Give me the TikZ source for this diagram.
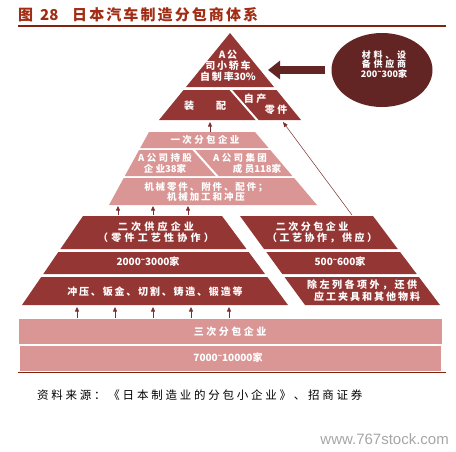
\documentclass[tikz,border=0pt]{standalone}
\usepackage{fontspec}
\setmainfont{Noto Sans CJK SC}
\newfontfamily\wmfont{Liberation Sans}
\usetikzlibrary{arrows.meta,shapes.geometric}
\definecolor{dk}{HTML}{943634}
\definecolor{pk}{HTML}{D99694}
\definecolor{dd}{HTML}{632523}
\definecolor{ttl}{RGB}{160,45,20}
\definecolor{arr}{HTML}{7A2E2E}
\newcommand\LS[1]{\addfontfeatures{LetterSpace=#1}}
\newcommand\nd[1]{{\addfontfeatures{LetterSpace=0}#1}}
\newcommand\tld{\raisebox{0.32em}{\fontsize{7}{7}\selectfont\textasciitilde}}
\begin{document}
\begin{tikzpicture}[x=1pt,y=-1pt,
  lbl/.style={text=white,inner sep=0pt,align=center,font=\bfseries\fontsize{10}{11}\selectfont\LS{25}},
  plbl/.style={text=white,inner sep=0pt,align=center,font=\bfseries\fontsize{9.5}{10.5}\selectfont\LS{25}},
  thin arrow/.style={draw=arr,line width=0.7pt,-{Triangle[width=4pt,length=4.5pt]}},
  gap/.style={draw=white,line width=2pt}]
\useasboundingbox (0,0) rectangle (456,451);

% title
\node[anchor=base west,inner sep=0pt,text=ttl,font=\bfseries\fontsize{15}{15}\selectfont] (tA) at (18,20) {图};
\node[anchor=base west,inner sep=0pt,text=ttl,font=\bfseries\fontsize{15}{15}\selectfont] (tB) at (40,20) {28};
\node[anchor=base west,inner sep=0pt,text=ttl,font=\bfseries\fontsize{15}{15}\selectfont\LS{14}] (tC) at (72,20) {日本汽车制造分包商体系};
\draw[draw=ttl!80!black,line width=2pt] (18,26) -- (446,26);

% top pyramid
\fill[dk] (230,33) -- (274,87) -- (186,87) -- cycle;
\fill[dk] (183.5,90) -- (276.5,90) -- (301,120) -- (159,120) -- cycle;
\draw[gap] (230,89) -- (258,121);
\node[lbl,font=\bfseries\fontsize{10}{11}\selectfont\LS{18}] (own) at (228,66) {A公\\司小轿车\\自制率\nd{30\%}};
\node[lbl] (asm) at (205,106) {装\hspace{22pt}配};
\node[lbl] (selfA) at (255,99) {自产};
\node[lbl] (selfB) at (276,110) {零件};

% supplier ellipse
\node[ellipse,fill=dd,minimum width=101pt,minimum height=74pt,inner sep=0pt] (sup) at (382,70) {};
\node[text=white,inner sep=0pt,align=center,font=\bfseries\fontsize{9}{9.3}\selectfont\LS{30}] (supt) at (384,64.5) {材料、设\\备供应商\\\nd{200\tld300}家};
\coordinate (te) at (268,70);
\draw[dd,line width=8pt,-{Triangle[width=18pt,length=12pt]}] ([xshift=-6pt]sup.west) -- (te);

% pink pyramid
\fill[pk] (149,132) -- (255,132) -- (268.6,148) -- (140.2,148) -- cycle;
\fill[pk] (139.1,150) -- (270.3,150) -- (292.4,176) -- (124.8,176) -- cycle;
\fill[pk] (123.7,178) -- (294.1,178) -- (317,205) -- (109,205) -- cycle;
\draw[gap] (193,149) -- (218,177);
\node[plbl] (first) at (205,140) {一次分包企业};
\node[plbl] (held) at (165,163.5) {A公司持股\\企业\nd{38}家};
\node[plbl] (grpA) at (240,158) {A公司集团};
\node[plbl] (grpB) at (257,169) {成员\nd{118}家};
\node[plbl,font=\bfseries\fontsize{9.5}{10}\selectfont\LS{20}] (mech) at (206,192) {机械零件、附件、配件；\\机械加工和冲压};

% dark lower pyramid, left
\fill[dk] (83,216) -- (222,216) -- (246.5,249) -- (60.4,249) -- cycle;
\fill[dk] (58.3,252) -- (248.7,252) -- (265,274) -- (43.3,274) -- cycle;
\fill[dk] (41.2,277) -- (267.3,277) -- (288,305) -- (22,305) -- cycle;
\node[lbl,font=\bfseries\fontsize{10}{11}\selectfont\LS{32}] (sec) at (156,232.5) {二次供应企业\\（零件工艺性协作）};
\node[lbl,font=\bfseries\fontsize{10}{11}\selectfont] (secn) at (148,262) {2000\tld3000家};
\node[lbl,font=\bfseries\fontsize{10}{11}\selectfont\LS{18}] (secw) at (155,292) {冲压、钣金、切割、铸造、锻造等};

% dark lower pyramid, right
\fill[dk] (240,216) -- (373,216) -- (397.8,249) -- (264,249) -- cycle;
\fill[dk] (266.3,252) -- (400.1,252) -- (416.7,274) -- (282.3,274) -- cycle;
\fill[dk] (284.5,277) -- (418.9,277) -- (440,305) -- (305,305) -- cycle;
\node[lbl] (subA) at (312,227) {二次分包企业};
\node[lbl] (subB) at (322,238) {（工艺协作，供应）};
\node[lbl,font=\bfseries\fontsize{10}{11}\selectfont] (subn) at (340,262) {500\tld600家};
\node[lbl] (subwA) at (362,285) {除左列各项外，还供};
\node[lbl,font=\bfseries\fontsize{10}{11}\selectfont\LS{20}] (subwB) at (367,297) {应工夹具和其他物料};

% bottom bars
\fill[pk] (19,319) rectangle (442,344);
\fill[pk] (20,346) rectangle (441,371);
\node[lbl] (third) at (230,332) {三次分包企业};
\node[lbl,font=\bfseries\fontsize{10}{11}\selectfont] (thirdn) at (228,358) {7000\tld10000家};
\draw[draw=ttl!80!black,line width=1.5pt] (18,372.5) -- (446,372.5);

% arrows
\coordinate (u0s) at (210,132); \coordinate (u0e) at (210,122);
\draw[thin arrow] (u0s) -- (u0e);
\foreach \i/\x in {1/118,2/153,3/188}{
  \coordinate (p\i s) at (\x,215); \coordinate (p\i e) at (\x,206);
  \draw[thin arrow] (p\i s) -- (p\i e);
}
\foreach \i/\x in {1/77,2/115,3/153,4/191,5/229}{
  \coordinate (b\i s) at (\x,318); \coordinate (b\i e) at (\x,307);
  \draw[thin arrow] (b\i s) -- (b\i e);
}
\coordinate (ls) at (352,215); \coordinate (le) at (283,122);
\draw[draw=arr,line width=0.5pt,-{Triangle[width=4pt,length=5pt]}] (ls) -- (le);

% source and watermark
\node[anchor=base west,inner sep=0pt,font=\fontsize{11.5}{12}\selectfont\LS{24}] (src) at (37,399) {资料来源：《日本制造业的分包小企业》、招商证券};
\node[anchor=base east,inner sep=0pt,text=black!35,font=\wmfont\fontsize{15}{15}\selectfont] (wm) at (449,444) {www.767stock.com};
\end{tikzpicture}
\end{document}
